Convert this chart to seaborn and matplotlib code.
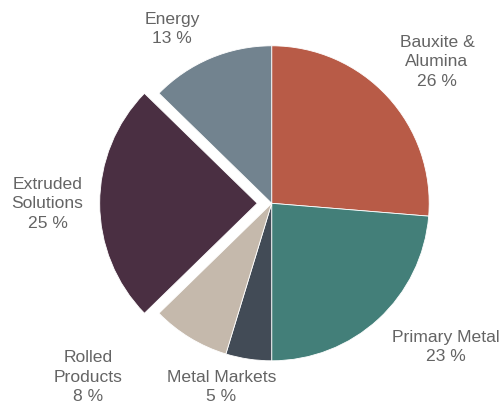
import matplotlib
matplotlib.use("Agg")
import matplotlib.pyplot as plt
import seaborn as sns

categories = ["Bauxite &\nAlumina", "Primary Metal", "Metal Markets", "Rolled\nProducts", "Extruded\nSolutions", "Energy"]
shares = [26.3, 23.7, 4.7, 8.0, 24.6, 12.7]      # slice sizes
pct_labels = [26, 23, 5, 8, 25, 13]               # percentages printed on the chart
colors = ["#B85B47", "#437F79", "#424B56", "#C5B9AC", "#4A2F42", "#72838F"]
explode_frac = [0, 0, 0, 0, 0.092, 0]

# label anchor positions in pixel space (x, y from top)
label_pos = [(437, 62), (446, 347), (221.5, 387), (88, 377), (47.5, 204), (172, 29)]

sns.set_theme(style="white")
plt.rcParams['font.family'] = ['Liberation Sans', 'DejaVu Sans']

palette = sns.color_palette(colors)

W, H = 502, 407
cx, cy, R = 271.7, 203.3, 157.5

fig = plt.figure(figsize=(5.02, 4.07), dpi=100)
ax = fig.add_axes([0, 0, 1, 1])

ax.pie(shares, colors=palette, explode=[e * R for e in explode_frac], startangle=90,
       counterclock=False, center=(cx, H - cy), radius=R, frame=True,
       wedgeprops=dict(edgecolor='white', linewidth=0.6))
ax.set_xlim(0, W)
ax.set_ylim(0, H)
ax.set_aspect('equal')
ax.axis('off')

for cat, p, (x, y) in zip(categories, pct_labels, label_pos):
    ax.text(x, H - y, f"{cat}\n{p} %", ha='center', va='center', fontsize=12.6,
            color='#646464', linespacing=1.38)

fig.savefig("out.png", dpi=100)
